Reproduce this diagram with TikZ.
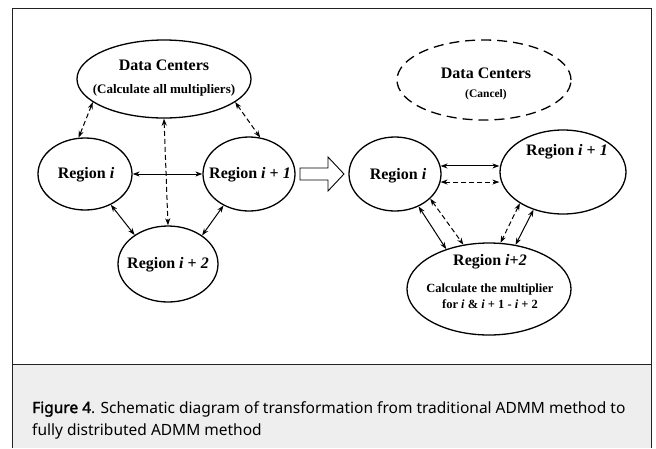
\documentclass[tikz,border=0pt]{standalone}
\usepackage{fontspec}
\setmainfont{Liberation Serif}
\newfontfamily\capfont{Noto Sans}
\newfontfamily\capbold{Noto Sans}[FakeBold=2]
\usetikzlibrary{arrows.meta,shapes.geometric}
\definecolor{capgray}{HTML}{EEEEEE}
\definecolor{frame}{HTML}{222222}
\begin{document}
\begin{tikzpicture}[x=1pt,y=-1pt,
  reg/.style={draw,ellipse,line width=1.3pt,inner sep=0pt},
  lab/.style={font=\bfseries\fontsize{16}{19}\selectfont, inner sep=0pt},
  small/.style={font=\bfseries\fontsize{13}{15}\selectfont, inner sep=0pt},
  both/.style={{Stealth[length=7pt,width=5pt]}-{Stealth[length=7pt,width=5pt]},line width=1pt},
  dsh/.style={both,dash pattern=on 5pt off 3pt},
  capt/.style={font=\capfont\fontsize{15.5}{22}\selectfont, inner sep=0pt, anchor=base west}]
\useasboundingbox (0,0) rectangle (656,448);
\fill[white] (0,0) rectangle (656,448);
\fill[capgray] (12,364) rectangle (651,448);
\draw[frame,line width=1pt] (12,448) -- (12,8) -- (651,8) -- (651,448);
\draw[frame,line width=1pt] (12,364) -- (651,364);

% ---------- left diagram ----------
\node[reg,minimum width=174pt,minimum height=78pt] (dc) at (164,79) {};
\node[lab] (dct1) at (164,65) {Data Centers};
\node[small] (dct2) at (164,90) {(Calculate all multipliers)};
\node[reg,minimum width=94pt,minimum height=72pt] (ri) at (85,174) {};
\node[lab] (rit) at (86,175) {Region \textit{i}};
\node[reg,minimum width=92pt,minimum height=74pt] (ri1) at (249,174) {};
\node[lab] (ri1t) at (250,175) {Region \textit{i} + \textit{1}};
\node[reg,minimum width=100pt,minimum height=76pt] (ri2) at (168,264) {};
\node[lab] (ri2t) at (168,265) {Region \textit{i} + \textit{2}};

\draw[dsh] (dc.198) -- (ri.100);
\draw[dsh] (dc.-18) -- (ri1.73);
\draw[dsh] (dc.south) -- (ri2.north);
\draw[both] (ri.east) -- (ri1.west);
\draw[both] (ri.-50) -- (ri2.139);
\draw[both] (ri1.231) -- (ri2.40);

% hollow transformation arrow
\draw[line width=0.9pt,fill=white] (300,168) -- (328,168) -- (328,157) -- (344,174)
  -- (328,191) -- (328,180) -- (300,180) -- cycle;

% ---------- right diagram ----------
\node[reg,dash pattern=on 10pt off 6pt,minimum width=174pt,minimum height=80pt] (rdc) at (484,80) {};
\node[lab] (rdct1) at (486,73) {Data Centers};
\node[small,font=\bfseries\fontsize{11.5}{13}\selectfont] (rdct2) at (486,95) {(Cancel)};
\node[reg,minimum width=92pt,minimum height=74pt] (rri) at (395,174) {};
\node[lab] (rrit) at (398,176) {Region \textit{i}};
\node[reg,minimum width=126pt,minimum height=84pt] (rri1) at (563,172) {};
\node[lab] (rri1t) at (567,152) {Region \textit{i} + \textit{1}};
\node[reg,minimum width=164pt,minimum height=92pt] (rri2) at (489,289) {};
\node[lab] (rri2t) at (490,262) {Region \textit{i}+\textit{2}};
\node[small,font=\bfseries\fontsize{12.5}{16}\selectfont,align=center] (rri2c) at (490,296)
  {Calculate the multiplier\\for \textit{i} \& \textit{i} + 1 - \textit{i} + 2};

\draw[both] (rri.10) -- (rri.10 -| rri1.west);
\draw[dsh] (rri.-10) -- (rri.-10 -| rri1.west);
\draw[both] (rri.-54) -- (rri2.137);
\draw[dsh] (rri.-35) -- (rri2.120);
\draw[dsh] (rri1.216) -- (rri2.76);
\draw[both] (rri1.232) -- (rri2.59);

% ---------- caption ----------
\node[capt] (cap1) at (32,413) {{\capbold Figure 4}. Schematic diagram of transformation from traditional ADMM method to};
\node[capt] (cap2) at (32,435) {fully distributed ADMM method};
\end{tikzpicture}
\end{document}
